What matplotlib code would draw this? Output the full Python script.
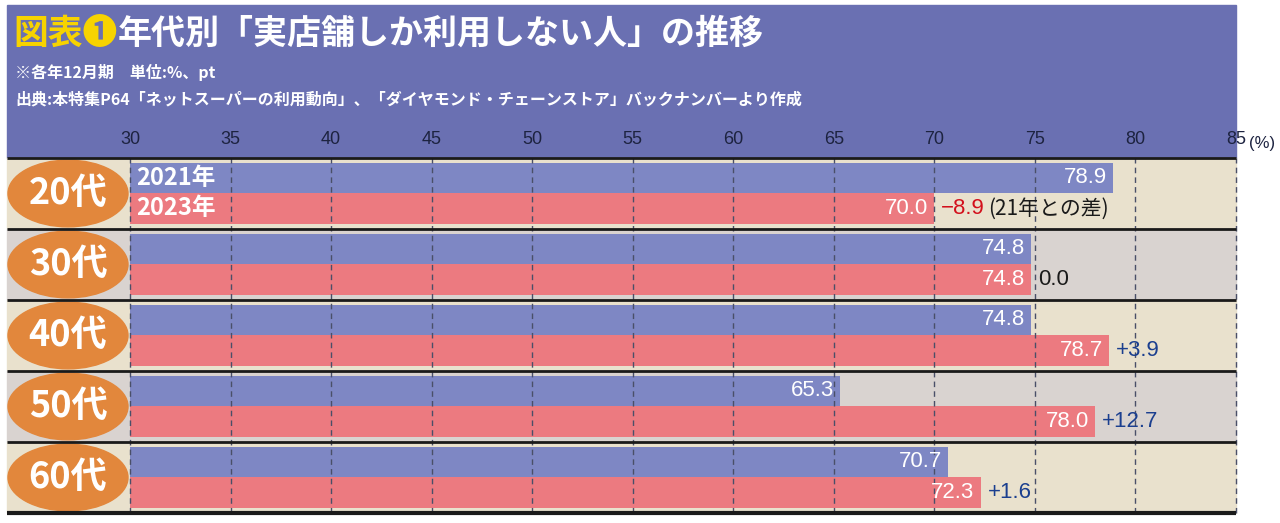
import matplotlib
matplotlib.use('Agg')
import matplotlib.pyplot as plt
import matplotlib.transforms as mtransforms
from matplotlib import font_manager
from matplotlib.patches import Rectangle, Ellipse

# data
ages = ['20代', '30代', '40代', '50代', '60代']
years = ['2021年', '2023年']
val_2021 = [78.9, 74.8, 74.8, 65.3, 70.7]
val_2023 = [70.0, 74.8, 78.7, 78.0, 72.3]
diff_labels = ['−8.9', '0.0', '+3.9', '+12.7', '+1.6']
xticks = [30, 35, 40, 45, 50, 55, 60, 65, 70, 75, 80, 85]

title_head = '図表❶'
title_body = '年代別「実店舗しか利用しない人」の推移'
note_1 = '※各年12月期　単位:%、pt'
note_2 = '出典:本特集P64「ネットスーパーの利用動向」、「ダイヤモンド・チェーンストア」バックナンバーより作成'
diff_note = '(21年との差)'
unit_label = '(%)'

# colours
PURPLE = '#6a70b2'
BLUE = '#7e87c4'
RED = '#ec7a80'
BEIGE = '#e9e1cd'
GREY = '#d9d3d0'
ORANGE = '#e2873c'
YELLOW = '#f7d300'
GRID = '#4a4f68'
NAVY = '#1d2340'

names = {f.name for f in font_manager.fontManager.ttflist}
JP = 'Noto Sans CJK JP'
if 'Liberation Sans Narrow' in names:
    NUM, NUM_SIZE = 'Liberation Sans Narrow', 18
else:
    NUM, NUM_SIZE = 'Liberation Sans', 16
plt.rcParams['font.family'] = [JP, 'DejaVu Sans']

W, H = 1280, 523
fig = plt.figure(figsize=(W / 100, H / 100), dpi=100)
fig.patch.set_facecolor('white')

# axes: x 30 -> 130px, 85 -> 1236px, rows from 158px to 513px
ax = fig.add_axes([130 / W, (H - 513) / H, (1236 - 130) / W, (513 - 158) / H])
ax.patch.set_visible(False)
ax.set_xlim(30, 85)
ax.set_ylim(5, 0)
for s in ax.spines.values():
    s.set_visible(False)

# header band
fig.add_artist(Rectangle((7 / W, (H - 158) / H), (1236 - 7) / W, (158 - 5) / H,
                         transform=fig.transFigure, color=PURPLE, zorder=0))

blend = mtransforms.blended_transform_factory(ax.transAxes, ax.transData)
left_edge = -(130 - 7) / (1236 - 130)

n = len(ages)
for i in range(n):
    ax.add_patch(Rectangle((left_edge, i), 1 - left_edge, 1, transform=blend,
                           color=BEIGE if i % 2 == 0 else GREY,
                           clip_on=False, zorder=0))
    ax.add_patch(Ellipse((-(130 - 68) / 1106, i + 0.5), 120 / 1106, 0.94,
                         transform=blend, color=ORANGE, clip_on=False, zorder=3))
    ax.text(-(130 - 68) / 1106, i + 0.5, ages[i], transform=blend,
            ha='center', va='center', color='white', fontsize=26,
            fontweight='bold', zorder=4)

y_blue = [i + 0.28 for i in range(n)]
y_red = [i + 0.71 for i in range(n)]
ax.barh(y_blue, val_2021, height=0.42, color=BLUE, zorder=2)
ax.barh(y_red, val_2023, height=0.43, color=RED, zorder=2)

for x in xticks:
    ax.axvline(x, color=GRID, lw=1, ls=(0, (4, 3)), zorder=3, clip_on=False)

for k in range(n + 1):
    ax.plot([left_edge, 1], [k, k], transform=blend, color='#1a1a1a',
            lw=3 if k == n else 2, clip_on=False, zorder=5,
            solid_capstyle='butt')

# value labels
for i in range(n):
    ax.text(val_2021[i] - 0.3, y_blue[i], f'{val_2021[i]:.1f}', ha='right',
            va='center', color='white', fontsize=NUM_SIZE, family=[NUM, JP],
            zorder=6)
    ax.text(val_2023[i] - 0.3, y_red[i], f'{val_2023[i]:.1f}', ha='right',
            va='center', color='white', fontsize=NUM_SIZE, family=[NUM, JP],
            zorder=6)
    if diff_labels[i].startswith('−'):
        c = '#d3101c'
    elif diff_labels[i].startswith('+'):
        c = '#1b3f8f'
    else:
        c = '#1a1a1a'
    t = ax.text(val_2023[i] + 0.35, y_red[i], diff_labels[i], ha='left',
                va='center', color=c, fontsize=NUM_SIZE, family=[NUM, JP],
                zorder=6)
    if i == 0:
        ax.annotate(diff_note, xycoords=t, xy=(1, 0.5), xytext=(2, 0),
                    textcoords='offset points', va='center', ha='left',
                    color='#1a1a1a', fontsize=15, annotation_clip=False,
                    zorder=6)

# year labels in first row
ax.text(30.3, y_blue[0], years[0], ha='left', va='center', color='white',
        fontsize=17, fontweight='bold', zorder=6)
ax.text(30.3, y_red[0], years[1], ha='left', va='center', color='white',
        fontsize=17, fontweight='bold', zorder=6)

# top ticks
ax.xaxis.tick_top()
ax.set_xticks(xticks)
ax.set_xticklabels([str(x) for x in xticks], family=[NUM, JP],
                   fontsize=13, color=NAVY)
ax.tick_params(axis='x', length=0, pad=7)
ax.set_yticks([])
ax.text(1 + 13 / 1106, 1 + 7 / 355, unit_label, transform=ax.transAxes,
        ha='left', va='bottom', fontsize=12, color=NAVY, family=[NUM, JP])

# title and notes
t1 = fig.text(13 / W, 1 - 33 / H, title_head, color=YELLOW, fontsize=25,
              fontweight='bold', va='center', ha='left',
              family=[JP, 'DejaVu Sans'])
ax.annotate(title_body, xycoords=t1, xy=(1, 0.5), va='center', ha='left',
            color='white', fontsize=24.5, fontweight='bold',
            annotation_clip=False)
fig.text(15 / W, 1 - 72 / H, note_1, color='white', fontsize=11.5,
         fontweight='bold', va='center', ha='left')
fig.text(15 / W, 1 - 99 / H, note_2, color='white', fontsize=11.5,
         fontweight='bold', va='center', ha='left')

fig.savefig('out.png', dpi=100)
